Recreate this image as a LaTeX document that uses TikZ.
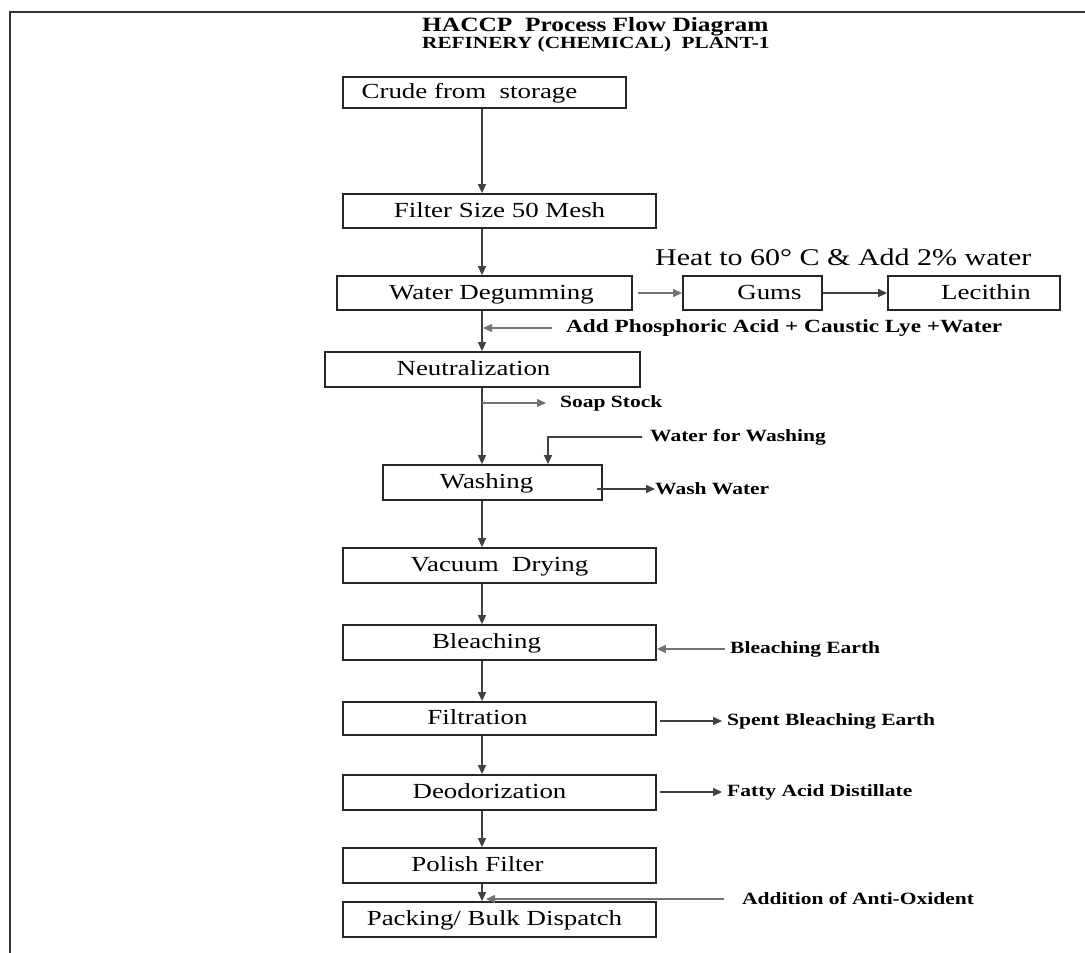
\documentclass[tikz,border=0pt]{standalone}
\usepackage{fontspec}
\setmainfont{Liberation Serif}[FakeStretch=1.25]
\usetikzlibrary{arrows.meta,calc}
\newcommand\boxfont{\fontsize{21.5}{24}\selectfont}
\newcommand\lblfont{\fontsize{17.2}{19}\selectfont\bfseries}
\newcommand\phosfont{\fontsize{18.6}{20}\selectfont\bfseries}
\newcommand\heatfont{\fontsize{24}{26}\selectfont}
\newcommand\ttlfont{\fontsize{20.3}{22}\selectfont\bfseries}
\newcommand\subfont{\fontsize{17}{19}\selectfont\bfseries}
\begin{document}
\begin{tikzpicture}[x=1pt,y=-1pt,
  box/.style={draw=black!85, line width=1.8pt, inner sep=0pt, font=\boxfont, text=black, text height=16pt, text depth=4pt},
  flow/.style={draw=black!75, line width=1.4pt, -{Triangle[length=9pt,width=8pt]}},
  side/.style={draw=black!55, line width=1.4pt, -{Triangle[length=9pt,width=8pt]}},
  lbl/.style={font=\lblfont, inner sep=0pt, anchor=west, text=black},
  ttl/.style={inner sep=0pt, anchor=base west, text=black}]
\useasboundingbox (0,0) rectangle (1085,953);
\fill[white] (0,0) rectangle (1085,953);
% frame
\draw[line width=2.5pt, black!80] (10,953) -- (10,12) -- (1085,12);
% titles
\node[ttl, font=\ttlfont] (title) at (422,31) {HACCP~ Process Flow Diagram};
\node[ttl, font=\subfont] (subtitle) at (422,48) {REFINERY (CHEMICAL)~ PLANT-1};
\coordinate (col) at (482,0);
% boxes
\node[box, minimum width=283pt, minimum height=31pt] (crude) at (484.5,92.5) {\hspace*{-30pt}Crude from~ storage};
\node[box, minimum width=313pt, minimum height=34pt] (filter) at (499.5,211) {Filter Size 50 Mesh};
\node[box, minimum width=295pt, minimum height=34pt] (wd) at (484.5,293) {\hspace*{14pt}Water Degumming};
\node[box, minimum width=139pt, minimum height=34pt] (gums) at (752.5,293) {\hspace*{34pt}Gums};
\node[box, minimum width=172pt, minimum height=34pt] (lec) at (974,293) {\hspace*{24pt}Lecithin};
\node[box, minimum width=315pt, minimum height=35pt] (neu) at (482.5,369.5) {\hspace*{-18pt}Neutralization};
\node[box, minimum width=219pt, minimum height=35pt] (wash) at (492.5,482.5) {\hspace*{-12pt}Washing};
\node[box, minimum width=313pt, minimum height=35pt] (vac) at (499.5,565.5) {Vacuum~ Drying};
\node[box, minimum width=313pt, minimum height=35pt] (bl) at (499.5,642.5) {\hspace*{-26pt}Bleaching};
\node[box, minimum width=313pt, minimum height=33pt] (fil) at (499.5,718.5) {\hspace*{-44pt}Filtration};
\node[box, minimum width=313pt, minimum height=35pt] (deo) at (499.5,792.5) {\hspace*{-20pt}Deodorization};
\node[box, minimum width=313pt, minimum height=35pt] (pol) at (499.5,865.5) {\hspace*{-44pt}Polish Filter};
\node[box, minimum width=313pt, minimum height=35pt] (pack) at (499.5,919.5) {\hspace*{-10pt}Packing/ Bulk Dispatch};
% side labels
\node[anchor=base west, inner sep=0pt, font=\heatfont] (heat) at (655,265) {Heat to 60° C \& Add 2\% water};
\node[lbl, font=\phosfont] (phos) at (566,328) {Add Phosphoric Acid + Caustic Lye +Water};
\node[lbl] (soap) at (560,403) {Soap Stock};
\node[lbl] (wfw) at (650,437) {Water for Washing};
\node[lbl] (wwt) at (655,489) {Wash Water};
\node[lbl] (be) at (730,649) {Bleaching Earth};
\node[lbl] (sbe) at (727,721) {Spent Bleaching Earth};
\node[lbl] (fad) at (727,792) {Fatty Acid Distillate};
\node[lbl] (aao) at (742,899) {Addition of Anti-Oxident};
% main flow
\draw[flow] (crude.south -| col) -- (filter.north -| col);
\draw[flow] (filter.south -| col) -- (wd.north -| col);
\draw[flow] (wd.south -| col) -- (neu.north -| col);
\draw[flow] (neu.south -| col) -- (wash.north -| col);
\draw[flow] (wash.south -| col) -- (vac.north -| col);
\draw[flow] (vac.south -| col) -- (bl.north -| col);
\draw[flow] (bl.south -| col) -- (fil.north -| col);
\draw[flow] (fil.south -| col) -- (deo.north -| col);
\draw[flow] (deo.south -| col) -- (pol.north -| col);
\draw[flow] (pol.south -| col) -- (pack.north -| col);
% side connectors
\draw[side] ($(wd.east)+(5,0)$) -- (gums.west);
\draw[flow] (gums.east) -- (lec.west);
\draw[side, shorten <=14pt] (phos.west) -- ($(phos.west -| col)+(1,0)$);
\draw[side, shorten >=14pt] (soap.west -| col) -- (soap.west);
\draw[flow] ($(wfw.west)+(-8,0)$) -| ($(wash.north)+(55.5,0)$);
\coordinate (wwa) at (597,489);
\draw[flow] (wwa) -- (wwt.west);
\draw[side, shorten <=5pt] (be.west) -- (be.west -| bl.east);
\draw[flow, shorten >=5pt] ($(sbe.west -| fil.east)+(3,0)$) -- (sbe.west);
\draw[flow, shorten >=5pt] ($(fad.west -| deo.east)+(3,0)$) -- (fad.west);
\draw[side, shorten <=18pt] (aao.west) -- ($(aao.west -| col)+(4,0)$);
\end{tikzpicture}
\end{document}
